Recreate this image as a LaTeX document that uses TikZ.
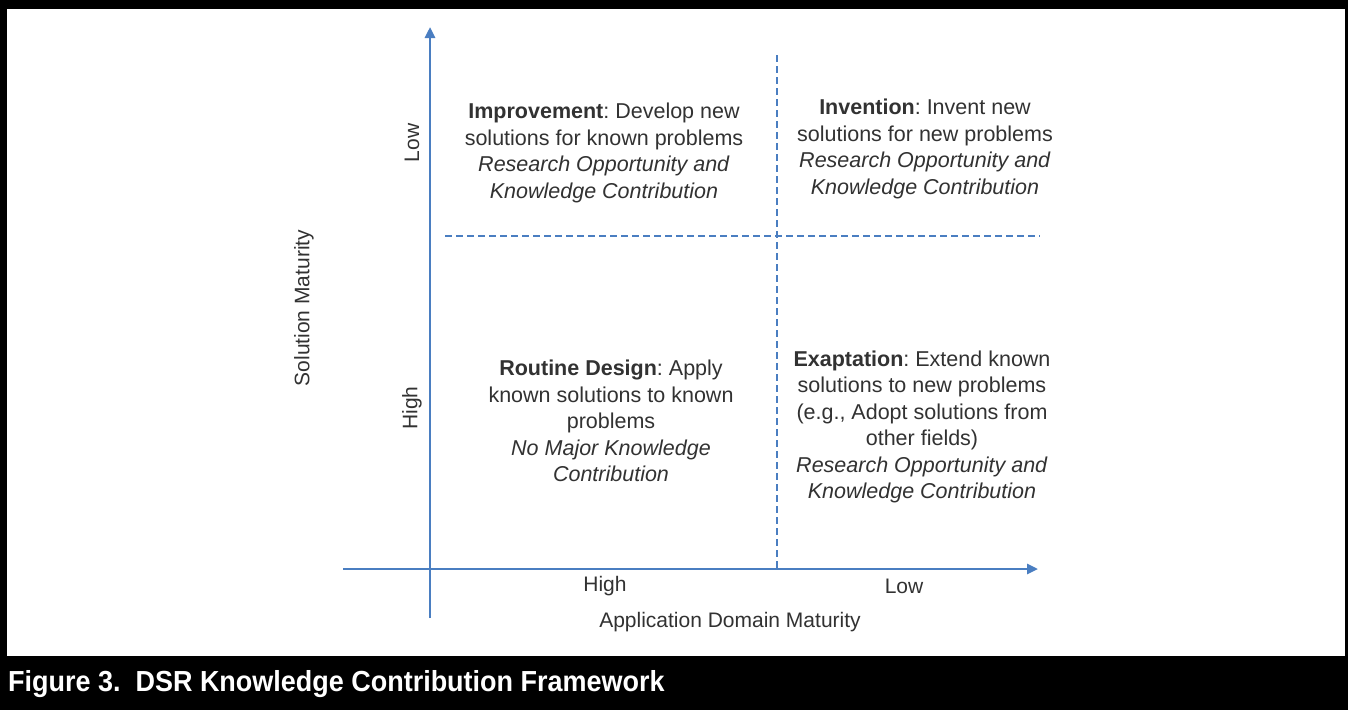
\documentclass[tikz,border=0pt]{standalone}
\usepackage{fontspec}
\setmainfont{Liberation Sans}
\usetikzlibrary{arrows.meta}
\definecolor{axisblue}{RGB}{74,126,193}
\definecolor{txtgray}{RGB}{50,50,50}
\frenchspacing
\tikzset{
  axisline/.style={draw=axisblue, line width=2.6pt},
  dashline/.style={draw=axisblue, line width=1.2pt, dash pattern=on 7pt off 4pt},
  quad/.style={text=txtgray, font=\fontsize{21.5}{26.5}\selectfont, align=center, inner sep=0pt},
  lbl/.style={text=txtgray, font=\fontsize{21}{24}\selectfont, inner sep=0pt},
}
\begin{document}
\begin{tikzpicture}[x=1pt,y=-1pt]
\useasboundingbox (0,0) rectangle (1348,710);
% frame
\fill[black] (0,0) rectangle (1348,710);
\fill[white] (7,9) rectangle (1345,656);
% axes
\coordinate (xs) at (343,569);
\coordinate (xe) at (1038,569);
\coordinate (ys) at (430,618);
\coordinate (ye) at (430,27);
\coordinate (vds) at (777,55);
\coordinate (vde) at (777,569);
\coordinate (hds) at (445,236);
\coordinate (hde) at (1040,236);
\draw[dashline] (vds) -- (vde);
\draw[dashline] (hds) -- (hde);
\draw[axisline, -{Triangle[length=11pt,width=10pt]}] (xs) -- (xe);
\draw[axisline, -{Triangle[length=11pt,width=10pt]}] (ys) -- (ye);
% quadrant texts
\node[quad] (impr) at (604,153) {\textbf{Improvement}: Develop new\\solutions for known problems\\\textit{Research Opportunity and}\\\textit{Knowledge Contribution}};
\node[quad] (inv) at (925,149) {\textbf{Invention}: Invent new\\solutions for new problems\\\textit{Research Opportunity and}\\\textit{Knowledge Contribution}};
\node[quad] (rout) at (611,421) {\textbf{Routine Design}: Apply\\known solutions to known\\problems\\\textit{No Major Knowledge}\\\textit{Contribution}};
\node[quad] (exap) at (922,427) {\textbf{Exaptation}: Extend known\\solutions to new problems\\(e.g., Adopt solutions from\\other fields)\\\textit{Research Opportunity and}\\\textit{Knowledge Contribution}};
% axis labels
\node[lbl] (xhigh) at (605,586) {High};
\node[lbl] (xlow) at (904,586) {Low};
\node[lbl] (xtitle) at (730,622) {Application Domain Maturity};
\node[lbl, rotate=90] (ytitle) at (304,308) {Solution Maturity};
\node[lbl, rotate=90] (ylow) at (412,143) {Low};
\node[lbl, rotate=90] (yhigh) at (412,408) {High};
% caption
\node[text=white, anchor=base west, inner sep=0pt] (cap) at (8,691) {\scalebox{0.93}[1]{\fontsize{29}{32}\selectfont\bfseries Figure 3.\ \ DSR Knowledge Contribution Framework}};
\end{tikzpicture}
\end{document}
